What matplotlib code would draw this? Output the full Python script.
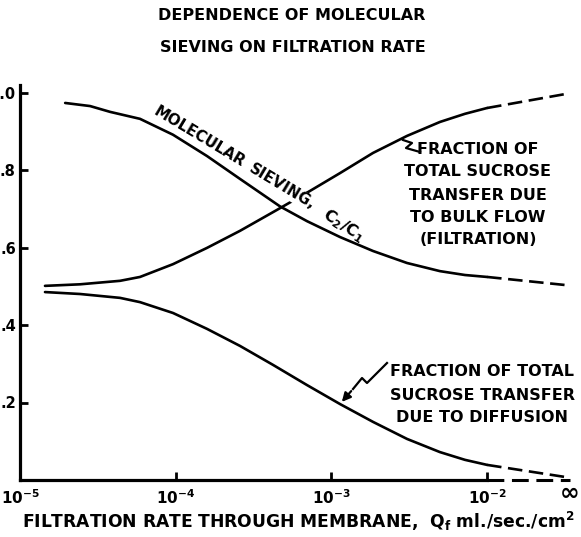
import matplotlib
matplotlib.use("Agg")
import matplotlib.pyplot as plt
from matplotlib.lines import Line2D
from matplotlib.ticker import NullLocator

# ---------------- data ----------------
INF_POS = 10 ** -1.47          # where the "infinity" end of the axis is drawn

sieve_q = [1.95e-5, 2.82e-5, 3.79e-5, 5.90e-5, 9.61e-5, 1.589e-4, 2.588e-4, 4.68e-4,
           6.97e-4, 1.136e-3, 1.85e-3, 3.06e-3, 4.98e-3, 7.21e-3, 1.0e-2]
sieve_v = [0.973, 0.965, 0.950, 0.932, 0.891, 0.836, 0.777, 0.706,
           0.668, 0.627, 0.591, 0.560, 0.539, 0.529, 0.524]
sieve_inf_v = 0.502

bulk_q = [1.447e-5, 2.43e-5, 4.39e-5, 5.90e-5, 9.61e-5, 1.589e-4, 2.588e-4, 4.47e-4,
          7.29e-4, 1.136e-3, 1.85e-3, 3.06e-3, 4.98e-3, 7.21e-3, 1.0e-2]
bulk_v = [0.501, 0.505, 0.514, 0.524, 0.557, 0.599, 0.643, 0.697,
          0.746, 0.792, 0.844, 0.888, 0.924, 0.945, 0.960]
bulk_inf_v = 0.998

diff_q = [1.447e-5, 2.43e-5, 4.39e-5, 5.90e-5, 9.61e-5, 1.589e-4, 2.588e-4, 4.22e-4,
          6.97e-4, 1.136e-3, 1.85e-3, 3.06e-3, 4.98e-3, 7.21e-3, 1.0e-2]
diff_v = [0.485, 0.480, 0.470, 0.459, 0.431, 0.390, 0.346, 0.297,
          0.245, 0.196, 0.150, 0.106, 0.072, 0.052, 0.039]
diff_inf_v = 0.006

x_ticks = [1e-5, 1e-4, 1e-3, 1e-2, INF_POS]
x_labels = [r"$10^{-5}$", r"$10^{-4}$", r"$10^{-3}$", r"$10^{-2}$", "\u221e"]
y_ticks = [0.2, 0.4, 0.6, 0.8, 1.0]
y_labels = [".2", ".4", ".6", ".8", "1.0"]

# ---------------- figure ----------------
plt.rcParams["font.family"] = ["DejaVu Sans"]
plt.rcParams["font.weight"] = "bold"
plt.rcParams["mathtext.default"] = "bf"

W, H = 581, 537
fig = plt.figure(figsize=(W / 100, H / 100), dpi=100)
ax = fig.add_axes([20 / W, (H - 480) / H, 557.4 / W, 395.25 / H])
ax.set_xscale("log")
ax.set_xlim(1e-5, 10 ** -1.42)
ax.set_ylim(0, 1.02)

LW = 1.9
DASH = (0, (5.5, 2.5))
for q, v in ((sieve_q, sieve_v), (bulk_q, bulk_v), (diff_q, diff_v)):
    ax.plot(q, v, color="black", lw=LW, zorder=3, solid_capstyle="round",
            solid_joinstyle="round")

ax.plot([sieve_q[-1], INF_POS], [sieve_v[-1], sieve_inf_v], color="black", lw=LW,
        ls=DASH, clip_on=False)
ax.plot([bulk_q[-1], INF_POS], [bulk_v[-1], bulk_inf_v], color="black", lw=LW,
        ls=DASH, clip_on=False)
ax.plot([diff_q[-1], INF_POS], [diff_v[-1], diff_inf_v], color="black", lw=LW,
        ls=DASH, clip_on=False)
# dashed continuation of the x axis to infinity
ax.plot([1e-2, INF_POS], [0, 0], color="black", lw=2.2, ls=DASH, clip_on=False)

for s in ("top", "right"):
    ax.spines[s].set_visible(False)
ax.spines["bottom"].set_bounds(1e-5, 1e-2)
ax.spines["bottom"].set_linewidth(2.3)
ax.spines["left"].set_linewidth(2.3)

ax.set_xticks(x_ticks)
ax.set_xticklabels(x_labels)
ax.xaxis.set_minor_locator(NullLocator())
ax.set_yticks(y_ticks)
ax.set_yticklabels(y_labels)
ax.tick_params(axis="both", direction="in", length=6, width=2)
ax.tick_params(axis="x", labelsize=11, pad=6)
ax.tick_params(axis="y", labelsize=10.5, pad=3)
xt = ax.xaxis.get_major_ticks()
xt[-1].tick1line.set_visible(False)
xt[-1].label1.set_fontsize(17)
xt[-1].set_pad(1)


def P(px, py):
    return (px / W, 1 - py / H)


# titles
fig.text(*P(292, 16), "DEPENDENCE OF MOLECULAR", ha="center", va="center",
         fontsize=11.5, fontweight="bold")
fig.text(*P(293, 47), "SIEVING ON FILTRATION RATE", ha="center", va="center",
         fontsize=11.5, fontweight="bold")

# x label
fig.text(*P(298, 521), r"FILTRATION RATE THROUGH MEMBRANE,  Q$_{f}$ ml./sec./cm$^{2}$",
         ha="center", va="center", fontsize=12.3, fontweight="bold")

# curve label along the sieving curve
fig.text(*P(199, 137), "MOLECULAR", ha="center", va="center", rotation=-31,
         rotation_mode="anchor", fontsize=10.8, fontweight="bold", zorder=5)
fig.text(*P(282, 187), "SIEVING,", ha="center", va="center", rotation=-31,
         rotation_mode="anchor", fontsize=10.8, fontweight="bold", zorder=5,
         bbox=dict(facecolor="white", edgecolor="none", pad=0.5))
fig.text(*P(344, 226), r"C$_{2}$/C$_{1}$", ha="center", va="center", rotation=-33,
         rotation_mode="anchor", fontsize=11.5, fontweight="bold", zorder=5)

# bulk-flow annotation
for txt, py in zip(["FRACTION OF", "TOTAL SUCROSE", "TRANSFER DUE", "TO BULK FLOW",
                    "(FILTRATION)"], [149, 172, 195, 217, 239]):
    fig.text(*P(478, py), txt, ha="center", va="center", fontsize=11.5,
             fontweight="bold")
pts = [(403, 140), (412, 143), (406, 148), (420, 152)]
fig.add_artist(Line2D([p[0] / W for p in pts], [1 - p[1] / H for p in pts],
                      color="black", lw=1.6, transform=fig.transFigure))

# diffusion annotation
for txt, py in zip(["FRACTION OF TOTAL", "SUCROSE TRANSFER", "DUE TO DIFFUSION"],
                   [371, 395, 418]):
    fig.text(*P(482, py), txt, ha="center", va="center", fontsize=11.5,
             fontweight="bold")
pts = [(387, 363), (367, 383), (362, 378), (353, 389)]
fig.add_artist(Line2D([p[0] / W for p in pts], [1 - p[1] / H for p in pts],
                      color="black", lw=1.6, transform=fig.transFigure))
ax.annotate("", xy=P(340, 404), xytext=P(353, 389), xycoords="figure fraction",
            textcoords="figure fraction",
            arrowprops=dict(arrowstyle="-|>", color="black", lw=1.6, mutation_scale=13))

fig.savefig("out.png", dpi=100)
